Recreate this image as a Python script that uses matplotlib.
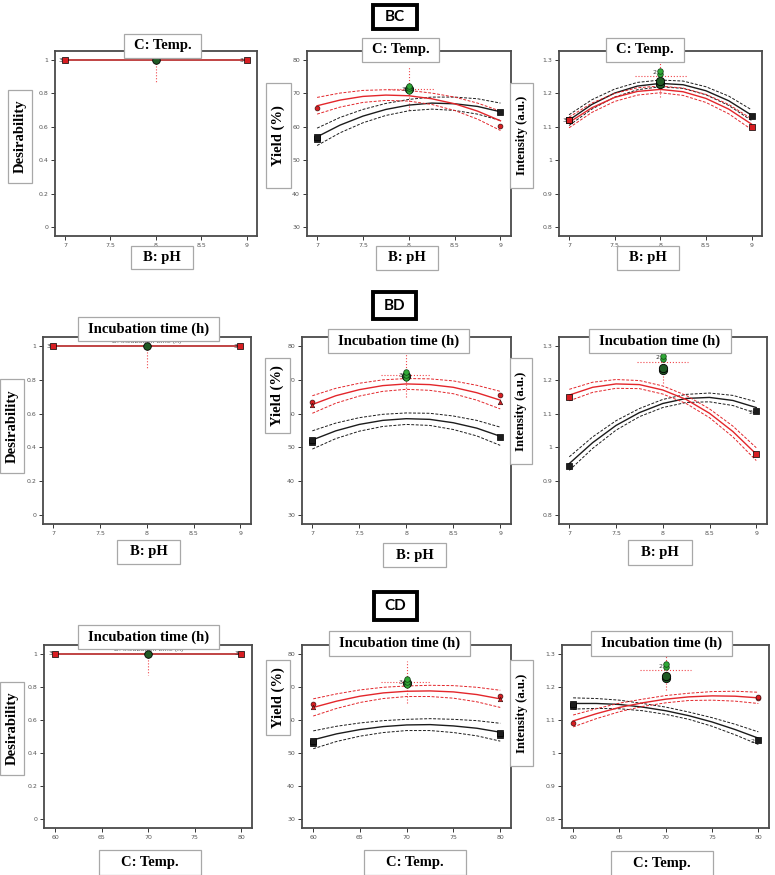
import numpy as np
import matplotlib.pyplot as plt
from matplotlib.patches import Rectangle

W, H = 775, 875

# x positions where the model curves were read
ph_x = [7, 7.25, 7.5, 7.75, 8, 8.25, 8.5, 8.75, 9]
temp_x = [60, 62.5, 65, 67.5, 70, 72.5, 75, 77.5, 80]

# ---- BC (pH vs temp) ----
bc_yield_black = [57.0, 60.5, 63.2, 65.2, 66.5, 67.1, 66.9, 66.1, 64.5]
bc_yield_black_hw = [2.6, 2.3, 2.0, 1.8, 1.7, 1.8, 2.0, 2.3, 2.6]
bc_yield_red = [66.3, 68.0, 69.1, 69.5, 69.3, 68.4, 66.9, 64.7, 61.8]
bc_yield_red_hw = [2.5, 2.1, 1.8, 1.6, 1.6, 1.7, 2.0, 2.4, 2.9]

bc_int_black = [1.120, 1.167, 1.201, 1.222, 1.230, 1.226, 1.208, 1.178, 1.135]
bc_int_black_hw = [0.016, 0.014, 0.012, 0.011, 0.010, 0.011, 0.012, 0.014, 0.016]
bc_int_red = [1.113, 1.157, 1.188, 1.206, 1.212, 1.205, 1.185, 1.153, 1.108]
bc_int_red_hw = [0.016, 0.014, 0.012, 0.011, 0.010, 0.011, 0.012, 0.014, 0.016]

# ---- BD (pH vs incubation time) ----
bd_yield_black = [52.2, 54.9, 56.8, 58.0, 58.5, 58.3, 57.3, 55.7, 53.3]
bd_yield_black_hw = [2.7, 2.3, 2.0, 1.8, 1.7, 1.8, 2.0, 2.3, 2.7]
bd_yield_red = [62.7, 65.3, 67.1, 68.3, 68.8, 68.6, 67.8, 66.2, 64.0]
bd_yield_red_hw = [2.6, 2.2, 1.9, 1.7, 1.6, 1.7, 1.9, 2.2, 2.6]

bd_int_black = [0.952, 1.014, 1.065, 1.103, 1.130, 1.145, 1.148, 1.139, 1.118]
bd_int_black_hw = [0.020, 0.017, 0.014, 0.012, 0.012, 0.012, 0.013, 0.015, 0.017]
bd_int_red = [1.155, 1.178, 1.188, 1.186, 1.170, 1.142, 1.101, 1.047, 0.980]
bd_int_red_hw = [0.017, 0.015, 0.013, 0.012, 0.012, 0.012, 0.013, 0.016, 0.019]

# ---- CD (temp vs incubation time) ----
cd_yield_black = [54.0, 55.8, 57.1, 58.0, 58.5, 58.6, 58.2, 57.5, 56.3]
cd_yield_black_hw = [2.7, 2.3, 2.0, 1.8, 1.7, 1.8, 2.0, 2.3, 2.7]
cd_yield_red = [63.8, 65.7, 67.2, 68.2, 68.7, 68.8, 68.5, 67.7, 66.4]
cd_yield_red_hw = [2.6, 2.2, 1.9, 1.7, 1.6, 1.7, 1.9, 2.2, 2.6]

cd_int_black = [1.150, 1.150, 1.147, 1.139, 1.128, 1.113, 1.094, 1.071, 1.045]
cd_int_black_hw = [0.017, 0.015, 0.013, 0.011, 0.011, 0.011, 0.013, 0.016, 0.019]
cd_int_red = [1.097, 1.119, 1.138, 1.152, 1.163, 1.170, 1.173, 1.172, 1.167]
cd_int_red_hw = [0.018, 0.015, 0.013, 0.011, 0.011, 0.011, 0.013, 0.015, 0.017]

# design points (x, y)
bc_yield_pts = {'bsq': ([7, 7, 9], [56.2, 57.0, 64.3]), 'rci': ([7, 9], [65.5, 60.3]),
                'green': ([8, 8, 8], [70.6, 71.5, 72.3]), 'dark': ([8], [71.2])}
bc_int_pts = {'bsq': ([7, 9], [1.121, 1.131]), 'rsq': ([7, 9], [1.119, 1.099]),
              'green': ([8, 8], [1.258, 1.266]), 'dark': ([8, 8], [1.228, 1.236])}
bd_yield_pts = {'bsq': ([7, 7, 9], [51.6, 52.2, 53.2]), 'rci': ([7, 9], [63.4, 65.5]),
                'rtri': ([7, 9], [62.5, 63.3]),
                'green': ([8, 8, 8], [70.6, 71.5, 72.4]), 'dark': ([8], [71.2])}
bd_int_pts = {'bsq': ([7, 9], [0.946, 1.109]), 'rsq': ([7, 9], [1.149, 0.979]),
              'green': ([8, 8], [1.262, 1.270]), 'dark': ([8, 8], [1.229, 1.236])}
cd_yield_pts = {'bsq': ([60, 60, 80, 80], [53.1, 53.6, 55.5, 56.2]), 'rci': ([60, 80], [64.8, 67.3]),
                'rtri': ([60, 80], [64.0, 66.5]),
                'green': ([70, 70, 70], [70.6, 71.5, 72.4]), 'dark': ([70], [71.2])}
cd_int_pts = {'bsq': ([60, 60, 80], [1.142, 1.148, 1.040]), 'rci': ([60, 80, 80], [1.091, 1.167, 1.171]),
              'green': ([70, 70], [1.260, 1.268]), 'dark': ([70, 70], [1.228, 1.233])}

ph_ticks = [7, 7.5, 8, 8.5, 9]
ph_labels = ['7', '7.5', '8', '8.5', '9']
temp_ticks = [60, 65, 70, 75, 80]
temp_labels = ['60', '65', '70', '75', '80']
des_ticks = [0, 0.2, 0.4, 0.6, 0.8, 1]
des_labels = ['0', '0.2', '0.4', '0.6', '0.8', '1']
yield_ticks = [30, 40, 50, 60, 70, 80]
yield_labels = ['30', '40', '50', '60', '70', '80']
int_ticks = [0.8, 0.9, 1.0, 1.1, 1.2, 1.3]
int_labels = ['0.8', '0.9', '1', '1.1', '1.2', '1.3']

BLACK = '#1c1c1c'
RED = '#e3262b'
DOT = '#f0454a'
SERIF = 'Liberation Serif'

fig = plt.figure(figsize=(W / 100, H / 100), dpi=100)


def px_axes(l, t, r, b):
    return fig.add_axes([l / W, 1 - b / H, (r - l) / W, (b - t) / H])


def style(ax, xt, xl, yt, yl, xlim, ylim):
    ax.set_xlim(*xlim)
    ax.set_ylim(*ylim)
    ax.set_xticks(xt)
    ax.set_xticklabels(xl)
    ax.set_yticks(yt)
    ax.set_yticklabels(yl)
    ax.tick_params(labelsize=4.5, labelcolor='#555555', length=3, width=0.7,
                   color='#333333', pad=2)
    for s in ax.spines.values():
        s.set_color('#4a4a4a')
        s.set_linewidth(1.3)


def curves(ax, x, black, black_hw, red, red_hw):
    x = np.array(x)
    for mean, hw, col in ((black, black_hw, BLACK), (red, red_hw, RED)):
        mean = np.array(mean)
        hw = np.array(hw)
        ax.plot(x, mean, color=col, lw=1.0, zorder=3)
        ax.plot(x, mean + hw, color=col, lw=0.7, ls=(0, (3, 1.6)), zorder=3)
        ax.plot(x, mean - hw, color=col, lw=0.7, ls=(0, (3, 1.6)), zorder=3)


def points(ax, pts, lab_at, lab):
    if 'bsq' in pts:
        ax.scatter(*pts['bsq'], marker='s', s=14, c=BLACK, edgecolors='black', lw=0.5, zorder=5)
    if 'rsq' in pts:
        ax.scatter(*pts['rsq'], marker='s', s=13, c='#d81e22', edgecolors='black', lw=0.5, zorder=6)
    if 'rci' in pts:
        ax.scatter(*pts['rci'], marker='o', s=12, c='#d81e22', edgecolors='#401010', lw=0.5, zorder=6)
    if 'rtri' in pts:
        ax.scatter(*pts['rtri'], marker='^', s=10, c='#d81e22', edgecolors='#401010', lw=0.5, zorder=6)
    ax.scatter(*pts['dark'], marker='o', s=36, c='#1f5a24', edgecolors='black', lw=0.6, zorder=6)
    ax.scatter(*pts['green'], marker='o', s=16, c='#2fa836', edgecolors='#0f3a12', lw=0.5, zorder=7)
    ax.text(lab_at[0], lab_at[1], lab, fontsize=4.5, color='#333333', ha='right', va='center', zorder=8)


def desirability(ax, x0, x1, xc, small):
    ax.plot([x0, x1], [1, 1], color='#b52424', lw=1.2, zorder=3)
    ax.plot([xc, xc], [1, 0.87], color=DOT, lw=0.8, ls=':', zorder=2)
    ax.scatter([x0, x1], [1, 1], marker='s', s=14, c='#d81e22', edgecolors='black', lw=0.5, zorder=5)
    ax.scatter([xc], [1], marker='o', s=30, c='#1f5a24', edgecolors='black', lw=0.6, zorder=6)
    dx = (x1 - x0) * 0.015
    ax.text(x0 - dx, 1, '3', fontsize=4.5, color='#333333', ha='right', va='center')
    ax.text(x1 - dx, 1, '3', fontsize=4.5, color='#333333', ha='right', va='center')
    ax.text(xc, 1.01, small, fontsize=4.5, color='#555555', ha='center', va='bottom', zorder=4)


def cross_yield(ax, xc, xa, xb):
    ax.plot([xc, xc], [65, 78], color=DOT, lw=0.8, ls=':', zorder=2)
    ax.plot([xa, xb], [71.4, 71.4], color=DOT, lw=0.8, ls=':', zorder=2)


def cross_int(ax, xc, xa, xb):
    ax.plot([xc, xc], [1.19, 1.295], color=DOT, lw=0.8, ls=':', zorder=2)
    ax.plot([xa, xb], [1.252, 1.252], color=DOT, lw=0.8, ls=':', zorder=2)


ph_lim = (6.89, 9.115)
temp_lim = (58.8, 81.15)
des_lim = (-0.054, 1.054)
yield_lim = (27.3, 82.7)
int_lim = (0.773, 1.327)

# ---------- row 1 : BC ----------
ax = px_axes(55, 51, 257, 236)
desirability(ax, 7, 9, 8, 'C: Temp.')
style(ax, ph_ticks, ph_labels, des_ticks, des_labels, ph_lim, des_lim)

ax = px_axes(307, 51, 511, 236)
cross_yield(ax, 8, 7.77, 8.27)
curves(ax, ph_x, bc_yield_black, bc_yield_black_hw, bc_yield_red, bc_yield_red_hw)
points(ax, bc_yield_pts, (7.96, 71.3), '3')
style(ax, ph_ticks, ph_labels, yield_ticks, yield_labels, ph_lim, yield_lim)

ax = px_axes(559, 51, 762, 236)
cross_int(ax, 8, 7.72, 8.3)
curves(ax, ph_x, bc_int_black, bc_int_black_hw, bc_int_red, bc_int_red_hw)
points(ax, bc_int_pts, (7.96, 1.262), '2')
ax.text(6.97, 1.12, '3', fontsize=4.5, color='#333333', ha='right', va='center')
style(ax, ph_ticks, ph_labels, int_ticks, int_labels, ph_lim, int_lim)

# ---------- row 2 : BD ----------
ax = px_axes(43, 337, 251, 524)
desirability(ax, 7, 9, 8, 'D: Incubation time (h)')
style(ax, ph_ticks, ph_labels, des_ticks, des_labels, ph_lim, des_lim)

ax = px_axes(302, 337, 511, 524)
cross_yield(ax, 8, 7.73, 8.26)
curves(ax, ph_x, bd_yield_black, bd_yield_black_hw, bd_yield_red, bd_yield_red_hw)
points(ax, bd_yield_pts, (7.96, 71.3), '3')
style(ax, ph_ticks, ph_labels, yield_ticks, yield_labels, ph_lim, yield_lim)

ax = px_axes(559, 337, 767, 524)
cross_int(ax, 8, 7.72, 8.27)
curves(ax, ph_x, bd_int_black, bd_int_black_hw, bd_int_red, bd_int_red_hw)
points(ax, bd_int_pts, (7.96, 1.266), '2')
ax.text(8.96, 1.103, '2', fontsize=4.5, color='#333333', ha='right', va='center')
style(ax, ph_ticks, ph_labels, int_ticks, int_labels, ph_lim, int_lim)

# ---------- row 3 : CD ----------
ax = px_axes(44, 645, 252, 828)
desirability(ax, 60, 80, 70, 'D: Incubation time (h)')
style(ax, temp_ticks, temp_labels, des_ticks, des_labels, temp_lim, des_lim)

ax = px_axes(302, 645, 511, 828)
cross_yield(ax, 70, 67.25, 72.6)
curves(ax, temp_x, cd_yield_black, cd_yield_black_hw, cd_yield_red, cd_yield_red_hw)
points(ax, cd_yield_pts, (69.6, 71.3), '3')
style(ax, temp_ticks, temp_labels, yield_ticks, yield_labels, temp_lim, yield_lim)

ax = px_axes(562, 645, 769, 828)
cross_int(ax, 70, 67.2, 72.7)
curves(ax, temp_x, cd_int_black, cd_int_black_hw, cd_int_red, cd_int_red_hw)
points(ax, cd_int_pts, (69.6, 1.262), '2')
ax.text(79.6, 1.036, '2', fontsize=4.5, color='#333333', ha='right', va='center')
style(ax, temp_ticks, temp_labels, int_ticks, int_labels, temp_lim, int_lim)

# ---------- label boxes on top ----------
ov = fig.add_axes([0, 0, 1, 1])
ov.set_xlim(0, W)
ov.set_ylim(H, 0)
ov.axis('off')


def box(x0, y0, x1, y1, text, rot=0, size=10.5):
    ov.add_patch(Rectangle((x0, y0), x1 - x0, y1 - y0, fc='white', ec='#a8a8a8', lw=0.9))
    ov.text((x0 + x1) / 2, (y0 + y1) / 2, text, ha='center', va='center', rotation=rot,
            fontsize=size, fontweight='bold', family=SERIF, color='black')


def tag(x0, y0, x1, y1, text):
    ov.add_patch(Rectangle((x0, y0), x1 - x0, y1 - y0, fc='white', ec='black', lw=2.8))
    ov.text((x0 + x1) / 2, (y0 + y1) / 2, text, ha='center', va='center',
            fontsize=11, fontweight='bold', family='Lato', color='black')


box(124, 34, 201, 58, 'C: Temp.')
box(8, 90, 32, 183, 'Desirability', 90)
box(131, 246, 193, 269, 'B: pH')
tag(373, 5, 417, 29, 'BC')
box(362, 38, 439, 62, 'C: Temp.')
box(266, 83, 291, 188, 'Yield (%)', 90)
box(376, 246, 438, 270, 'B: pH')
box(606, 38, 684, 62, 'C: Temp.')
box(510, 83, 533, 188, 'Intensity (a.u.)', 90, 9.2)
box(617, 246, 679, 270, 'B: pH')

box(78, 317, 219, 341, 'Incubation time (h)')
box(0, 379, 24, 473, 'Desirability', 90)
box(117, 540, 180, 564, 'B: pH')
tag(373, 292, 416, 319, 'BD')
box(328, 329, 469, 353, 'Incubation time (h)')
box(265, 358, 290, 433, 'Yield (%)', 90)
box(383, 543, 446, 567, 'B: pH')
box(589, 329, 731, 353, 'Incubation time (h)')
box(510, 358, 532, 464, 'Intensity (a.u.)', 90, 9.2)
box(628, 540, 692, 565, 'B: pH')

box(78, 625, 219, 649, 'Incubation time (h)')
box(0, 682, 24, 775, 'Desirability', 90)
box(99, 850, 201, 875, 'C: Temp.')
tag(374, 592, 417, 620, 'CD')
box(329, 631, 470, 656, 'Incubation time (h)')
box(266, 660, 290, 735, 'Yield (%)', 90)
box(364, 850, 466, 875, 'C: Temp.')
box(591, 631, 732, 656, 'Incubation time (h)')
box(510, 660, 533, 766, 'Intensity (a.u.)', 90, 9.2)
box(611, 851, 713, 876, 'C: Temp.')

fig.savefig('out.png', dpi=100)
